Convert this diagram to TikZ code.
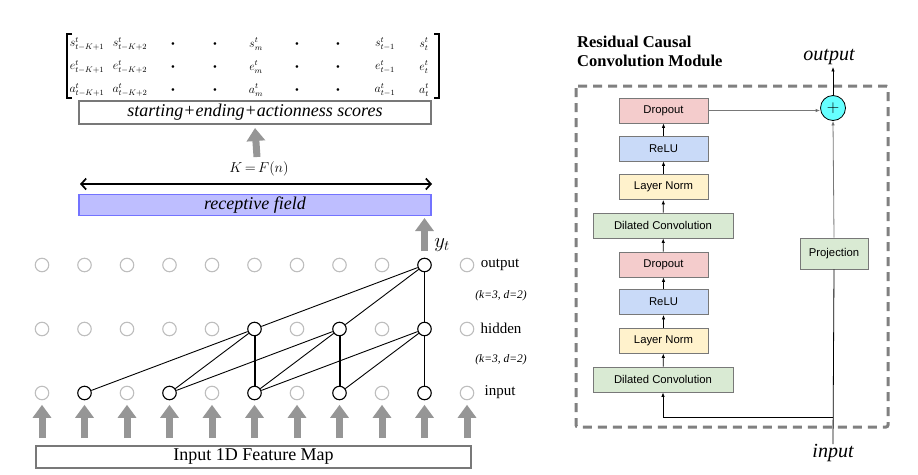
\documentclass[tikz,border=0pt]{standalone}
\usepackage{fontspec}
\setmainfont{Liberation Serif}
\newfontfamily\arialf{Liberation Sans}
\usetikzlibrary{arrows.meta,calc}
\definecolor{arrowgray}{RGB}{150,150,150}
\definecolor{circgray}{RGB}{190,190,190}
\definecolor{boxline}{RGB}{120,120,120}
\definecolor{rfill}{RGB}{190,190,255}
\definecolor{rline}{RGB}{115,115,255}
\definecolor{cpink}{HTML}{F4CCCC}
\definecolor{cblue}{HTML}{C9DAF8}
\definecolor{cyellow}{HTML}{FFF2CC}
\definecolor{cgreen}{HTML}{D9EAD3}
\definecolor{ccyan}{RGB}{102,255,255}
\definecolor{dashgray}{RGB}{128,128,128}
\begin{document}
\begin{tikzpicture}[x=1pt,y=-1pt,
  gcirc/.style={circle,draw=circgray,line width=1.1pt,minimum size=13.5pt,inner sep=0pt},
  bcirc/.style={circle,draw=black,line width=1.1pt,minimum size=13.5pt,inner sep=0pt},
  bigarrow/.style={draw=arrowgray,line width=7pt,-{Triangle[length=13pt,width=18pt]}},
  edge/.style={draw=black,line width=0.9pt},
  thickedge/.style={draw=black,line width=2pt},
  lab/.style={font=\fontsize{15}{17}\selectfont,inner sep=0pt},
  klab/.style={font=\itshape\fontsize{11.5}{13}\selectfont,inner sep=0pt},
  ment/.style={font=\fontsize{12}{13}\selectfont,inner sep=0pt},
  mbox/.style={draw=boxline,line width=0.8pt,minimum height=25pt,inner sep=0pt,font=\arialf\fontsize{11.3}{13}\selectfont},
  sarrow/.style={draw=black,line width=0.8pt,-{Latex[length=4.5pt,width=3.5pt]}},
  garrow/.style={draw=boxline,line width=0.8pt,-{Latex[length=4.5pt,width=3.5pt,fill=black]}},
]
\useasboundingbox (0,0) rectangle (918,474);

% ---------- circles ----------
\foreach \i [evaluate=\i as \xx using 42+42.5*\i] in {0,...,10} {
  \coordinate (col\i) at (\xx,0);
}
\foreach \i in {0,...,8,10} { \node[gcirc] (o\i) at (col\i |- 0,265) {}; }
\node[bcirc] (o9) at (col9 |- 0,265) {};
\foreach \i in {0,1,2,3,4,6,8,10} { \node[gcirc] (h\i) at (col\i |- 0,329) {}; }
\foreach \i in {5,7,9} { \node[bcirc] (h\i) at (col\i |- 0,329) {}; }
\foreach \i in {0,2,4,6,8,10} { \node[gcirc] (in\i) at (col\i |- 0,393) {}; }
\foreach \i in {1,3,5,7,9} { \node[bcirc] (in\i) at (col\i |- 0,393) {}; }

% ---------- edges ----------
\draw[edge] (o9) -- (h5);
\draw[edge] (o9) -- (h7);
\draw[thickedge,line width=1.6pt] (o9) -- (h9);
\draw[edge] (h5) -- (in1);
\draw[edge] (h5) -- (in3);
\draw[thickedge] (h5) -- (in5);
\draw[edge] (h7) -- (in3);
\draw[edge] (h7) -- (in5);
\draw[thickedge] (h7) -- (in7);
\draw[edge] (h9) -- (in5);
\draw[edge] (h9) -- (in7);
\draw[thickedge,line width=1.6pt] (h9) -- (in9);

% ---------- row labels ----------
\node[lab] (lout) at (500,265) {output};
\node[klab] (k1) at (501,296) {(k=3, d=2)};
\node[lab] (lhid) at (501,328) {hidden};
\node[klab] (k2) at (501,360) {(k=3, d=2)};
\node[lab] (linp) at (500,392) {input};

% ---------- input feature map ----------
\node[draw=boxline,line width=2pt,minimum width=435pt,minimum height=22pt,inner sep=0pt,
      font=\fontsize{18}{20}\selectfont] (fm) at (253.5,456.5) {Input 1D Feature Map};
\foreach \i in {0,...,10} {
  \coordinate (ab\i) at (col\i |- 0,438);
  \draw[bigarrow] (ab\i) -- ([yshift=-4.5pt]in\i.south);
}

% ---------- y_t ----------
\coordinate (yb) at (col9 |- 0,251);
\coordinate (yt) at (col9 |- 0,218);
\draw[bigarrow] (yb) -- (yt);
\node[inner sep=0pt,font=\fontsize{20}{22}\selectfont] (ylab) at (442,245) {$y_t$};

% ---------- receptive field ----------
\node[draw=rline,fill=rfill,line width=1.5pt,minimum width=352pt,minimum height=21pt,inner sep=0pt,
      font=\itshape\fontsize{18}{20}\selectfont] (rf) at (255,205) {receptive field};
\coordinate (dl) at (80,184);
\coordinate (dr) at (432,184);
\draw[line width=1.7pt,{Straight Barb[length=5pt,width=11pt]}-{Straight Barb[length=5pt,width=11pt]}] (dl) -- (dr);
\node[inner sep=0pt,font=\fontsize{15}{17}\selectfont] (kf) at (259,169) {$K\,{=}\,F(n)$};

% ---------- scores ----------
\node[draw=boxline,line width=2pt,minimum width=352pt,minimum height=23pt,inner sep=0pt,
      font=\itshape\fontsize{18}{20}\selectfont] (sc) at (255,112.5) {starting+ending+actionness scores};
\coordinate (sb) at (257,157);
\draw[bigarrow] (sb) -- ([yshift=-3pt]sc.south);

% ---------- matrix ----------
\foreach \r/\l/\yy in {1/s/44,2/e/67,3/a/90} {
  \node[ment] (m\r-1) at (87,\yy) {$\l^t_{t-K+1}$};
  \node[ment] (m\r-2) at (130,\yy) {$\l^t_{t-K+2}$};
  \node[ment] (m\r-3) at (173,\yy) {\fontsize{6}{7}\selectfont$\bullet$};
  \node[ment] (m\r-4) at (215,\yy) {\fontsize{6}{7}\selectfont$\bullet$};
  \node[ment] (m\r-5) at (256,\yy) {$\l^t_m$};
  \node[ment] (m\r-6) at (297,\yy) {\fontsize{6}{7}\selectfont$\bullet$};
  \node[ment] (m\r-7) at (338,\yy) {\fontsize{6}{7}\selectfont$\bullet$};
  \node[ment] (m\r-8) at (385,\yy) {$\l^t_{t-1}$};
  \node[ment] (m\r-9) at (424,\yy) {$\l^t_t$};
}
\draw[line width=2pt] (72,34) -- (67,34) -- (67,98) -- (72,98);
\draw[line width=2pt] (434,34) -- (439,34) -- (439,98) -- (434,98);

% ---------- residual module ----------
\node[font=\bfseries\fontsize{16.5}{19}\selectfont,align=left,anchor=north west,inner sep=0pt] (title)
  at (577,36) {Residual Causal\\Convolution Module};
\draw[dashgray,line width=3pt,dash pattern=on 9pt off 6pt,rounded corners=2pt] (576,86) rectangle (888,427);

\node[mbox,fill=cpink,minimum width=89pt] (do1) at (663.5,110.5) {Dropout};
\node[mbox,fill=cblue,minimum width=89pt] (re1) at (663.5,148.5) {ReLU};
\node[mbox,fill=cyellow,minimum width=89pt] (ln1) at (663.5,187) {Layer Norm};
\node[mbox,fill=cgreen,minimum width=140pt] (dc1) at (663,225.5) {Dilated Convolution};
\node[mbox,fill=cpink,minimum width=89pt] (do2) at (663.5,264.5) {Dropout};
\node[mbox,fill=cblue,minimum width=89pt] (re2) at (663.5,302) {ReLU};
\node[mbox,fill=cyellow,minimum width=89pt] (ln2) at (663.5,340.5) {Layer Norm};
\node[mbox,fill=cgreen,minimum width=140pt] (dc2) at (663,379.5) {Dilated Convolution};
\node[mbox,fill=cgreen,minimum width=68pt,minimum height=31pt] (proj) at (834,253.5) {Projection};
\node[circle,draw=black,fill=ccyan,line width=0.8pt,minimum size=25pt,inner sep=0pt,
      font=\fontsize{16}{16}\selectfont] (plus) at (833,108) {$+$};

\draw[sarrow] (dc2) -- (ln2);
\draw[sarrow] (ln2) -- (re2);
\draw[sarrow] (re2) -- (do2);
\draw[sarrow] (do2) -- (dc1);
\draw[sarrow] (dc1) -- (ln1);
\draw[sarrow] (ln1) -- (re1);
\draw[sarrow] (re1) -- (do1);
\draw[garrow] (do1.east) -- (plus.west |- do1.east);

\node[inner sep=0pt,font=\itshape\fontsize{20}{22}\selectfont] (outl) at (829,57) {output};
\node[inner sep=0pt,font=\itshape\fontsize{20}{22}\selectfont] (inl) at (833,453) {input};
\draw[sarrow] (plus.north) -- ([yshift=-2pt]outl.south -| plus.north);
\coordinate (split) at (833,417);
\draw[draw=black,line width=0.8pt] (inl.north -| split) -- (proj.south);
\draw[sarrow] (split) -| (dc2.south);
\draw[garrow] (proj.north) -- (plus.south);
\end{tikzpicture}
\end{document}
